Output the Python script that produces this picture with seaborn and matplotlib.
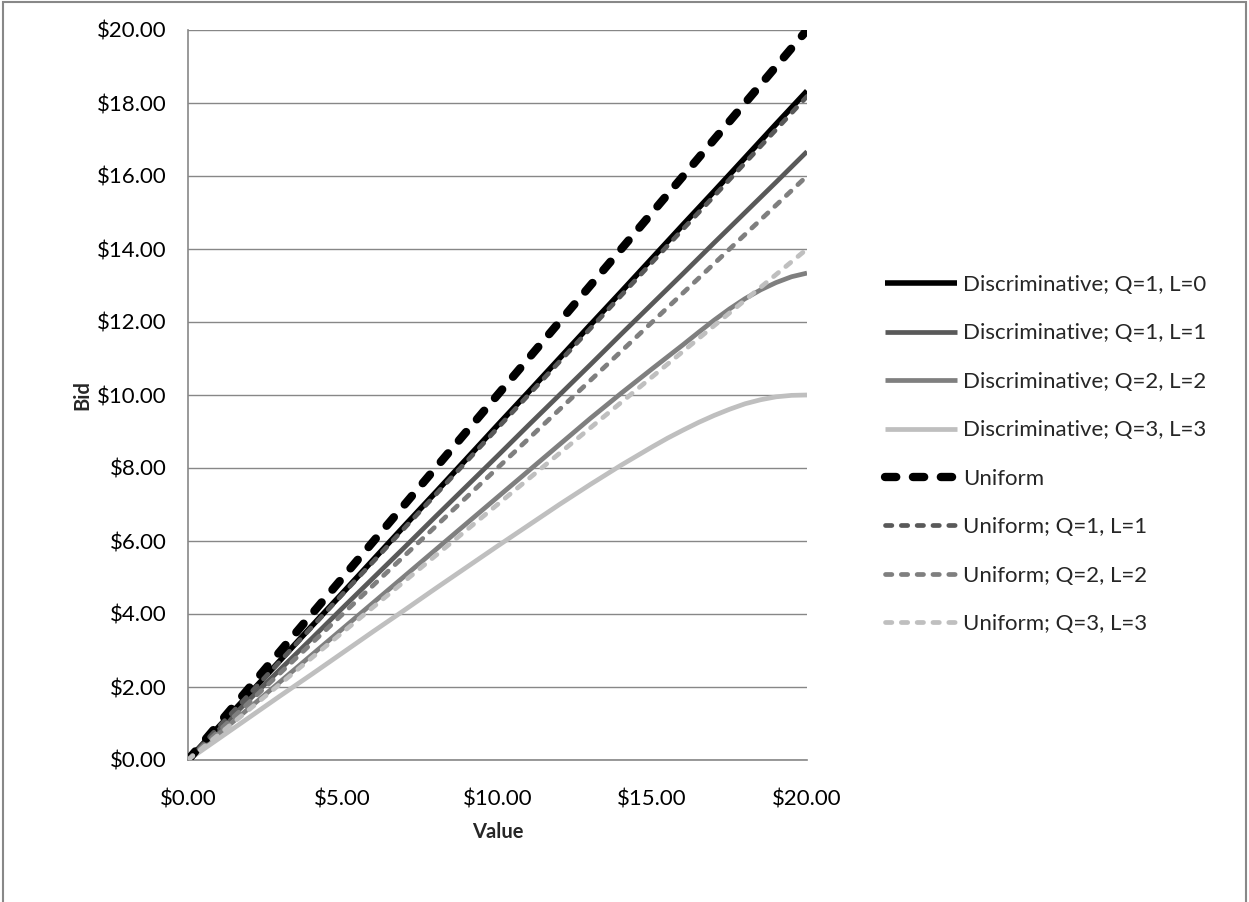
import matplotlib
matplotlib.use("Agg")
import matplotlib.pyplot as plt
import matplotlib.patches as mpatches
from matplotlib.ticker import StrMethodFormatter
import pandas as pd
import seaborn as sns

values = [0, 1, 2, 3, 4, 5, 6, 7, 8, 9, 10, 11, 12, 13, 14, 15, 16, 17, 18, 19, 20]

disc_q1_l0 = [0, 0.92, 1.83, 2.75, 3.67, 4.58, 5.5, 6.42, 7.33, 8.25, 9.17,
              10.08, 11.0, 11.92, 12.83, 13.75, 14.67, 15.58, 16.5, 17.42, 18.33]
disc_q1_l1 = [0, 0.83, 1.67, 2.5, 3.33, 4.17, 5.0, 5.83, 6.67, 7.5, 8.33,
              9.17, 10.0, 10.83, 11.67, 12.5, 13.33, 14.17, 15.0, 15.83, 16.67]
uniform = [0, 1, 2, 3, 4, 5, 6, 7, 8, 9, 10, 11, 12, 13, 14, 15, 16, 17, 18, 19, 20]
unif_q1_l1 = [0, 0.91, 1.82, 2.73, 3.64, 4.55, 5.45, 6.36, 7.27, 8.18, 9.09,
              10.0, 10.91, 11.82, 12.73, 13.64, 14.55, 15.45, 16.36, 17.27, 18.18]
unif_q2_l2 = [0, 0.8, 1.6, 2.4, 3.2, 4.0, 4.8, 5.6, 6.4, 7.2, 8.0,
              8.8, 9.6, 10.4, 11.2, 12.0, 12.8, 13.6, 14.4, 15.2, 16.0]
unif_q3_l3 = [0, 0.7, 1.4, 2.1, 2.8, 3.5, 4.2, 4.9, 5.6, 6.3, 7.0,
              7.7, 8.4, 9.1, 9.8, 10.5, 11.2, 11.9, 12.6, 13.3, 14.0]

# the two bending curves are read more finely near the top end
curve_values = [0, 1, 2, 3, 4, 5, 6, 7, 8, 9, 10, 11, 12, 13, 14, 15,
                15.5, 16, 16.5, 17, 17.5, 18, 18.5, 19, 19.5, 20]
disc_q2_l2 = [0, 0.72, 1.44, 2.16, 2.88, 3.6, 4.32, 5.04, 5.76, 6.48, 7.2,
              7.92, 8.64, 9.36, 10.05, 10.72, 11.05, 11.38, 11.72, 12.05, 12.36,
              12.64, 12.88, 13.08, 13.24, 13.34]
disc_q3_l3 = [0, 0.59, 1.18, 1.77, 2.35, 2.94, 3.53, 4.11, 4.7, 5.28, 5.86,
              6.43, 7.0, 7.55, 8.08, 8.58, 8.82, 9.04, 9.25, 9.44, 9.61,
              9.76, 9.87, 9.95, 9.99, 10.0]

series_names = ["Discriminative; Q=1, L=0", "Discriminative; Q=1, L=1",
                "Discriminative; Q=2, L=2", "Discriminative; Q=3, L=3",
                "Uniform", "Uniform; Q=1, L=1", "Uniform; Q=2, L=2", "Uniform; Q=3, L=3"]
series_x = [values, values, curve_values, curve_values,
            values, values, values, values]
series_y = [disc_q1_l0, disc_q1_l1, disc_q2_l2, disc_q3_l3,
            uniform, unif_q1_l1, unif_q2_l2, unif_q3_l3]

colors = ["#000000", "#595959", "#7f7f7f", "#bfbfbf",
          "#000000", "#595959", "#7f7f7f", "#bfbfbf"]
widths = [4.0, 3.4, 3.4, 3.4, 6.0, 3.4, 3.4, 3.4]
dashed = [False, False, False, False, True, True, True, True]

sns.set_theme(style="white")
plt.rcParams['font.family'] = ['Lato', 'DejaVu Sans']

fig = plt.figure(figsize=(12.49, 9.02), dpi=100)
ax = fig.add_axes([188 / 1249, 1 - 760 / 902, (807 - 188) / 1249, (760 - 30) / 902])

grid_color = "#878787"
for name, xs, ys, c, w, d in zip(series_names, series_x, series_y, colors, widths, dashed):
    df = pd.DataFrame({"Value": xs, "Bid": ys})
    sns.lineplot(data=df, x="Value", y="Bid", ax=ax, color=c, linewidth=w,
                 linestyle=(0, (1.35, 2.0)) if d else "-",
                 dash_capstyle="round", solid_capstyle="butt",
                 label=name, legend=False, zorder=3)

ax.set_xlim(0, 20)
ax.set_ylim(0, 20)
ax.set_xticks([0, 5, 10, 15, 20])
ax.set_yticks(range(0, 21, 2))
ax.xaxis.set_major_formatter(StrMethodFormatter("${x:.2f}"))
ax.yaxis.set_major_formatter(StrMethodFormatter("${x:.2f}"))
ax.tick_params(axis="both", which="major", length=6.5, width=1, color=grid_color,
               labelsize=16, labelcolor="#000000", direction="out")
ax.tick_params(axis="y", pad=9)
ax.tick_params(axis="x", pad=15)
ax.yaxis.grid(True, color=grid_color, linewidth=1)
ax.xaxis.grid(False)
ax.set_axisbelow(True)
for side in ["top", "right"]:
    ax.spines[side].set_visible(False)
for side in ["left", "bottom"]:
    ax.spines[side].set_color(grid_color)
    ax.spines[side].set_linewidth(1.2)

ax.set_xlabel("Value", fontsize=14.5, fontweight="bold")
ax.set_ylabel("Bid", fontsize=14.5, fontweight="bold")
ax.xaxis.set_label_coords(0.5, -0.085)
ax.yaxis.set_label_coords(-0.155, 0.5)

handles, labels = ax.get_legend_handles_labels()
fig.legend(handles, labels, loc="upper left", bbox_to_anchor=(885 / 1249, 1 - 275 / 902),
           frameon=False, fontsize=16, handlelength=3.25, handletextpad=0.27,
           labelspacing=1.28, borderpad=0, borderaxespad=0)

# chart area border
fig.patches.append(mpatches.Rectangle((3 / 1249, -0.02), (1246 - 3) / 1249, 1.02 - 2 / 902,
                                      transform=fig.transFigure, fill=False,
                                      edgecolor="#888888", linewidth=1.5))

fig.savefig("out.png", dpi=100)
